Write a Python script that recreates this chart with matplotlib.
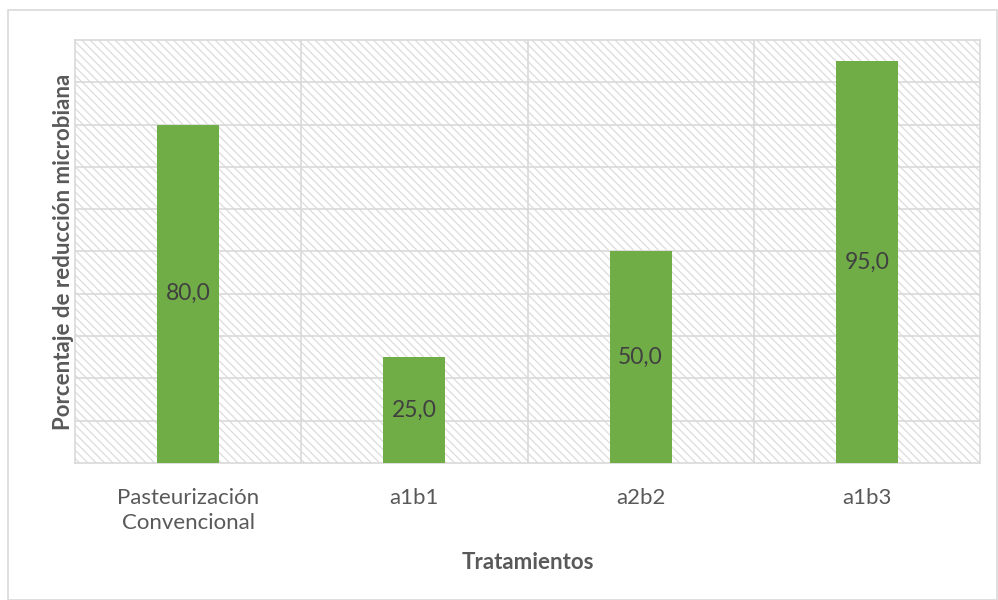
import matplotlib
matplotlib.use("Agg")
import matplotlib.pyplot as plt
from matplotlib.patches import Rectangle

categories = ["Pasteurización\nConvencional", "a1b1", "a2b2", "a1b3"]
values = [80.0, 25.0, 50.0, 95.0]
value_labels = ["80,0", "25,0", "50,0", "95,0"]

plt.rcParams["font.family"] = ["Lato", "DejaVu Sans"]
plt.rcParams["hatch.linewidth"] = 0.9

GRID = "#D9D9D9"
TEXT = "#595959"
BAR = "#70AD47"

fig = plt.figure(figsize=(9.98, 6.0), dpi=100)
fig.patches.append(Rectangle((8 / 998, 0.0), 989 / 998, 590 / 600, transform=fig.transFigure,
                             facecolor="none", edgecolor=GRID, linewidth=1.2, zorder=0))

ax = fig.add_axes([75 / 998, 1 - 463 / 600, 905 / 998, 423 / 600])
ax.set_facecolor("white")

# diagonal hatch filling the plot area
ax.add_patch(Rectangle((0, 0), 1, 1, transform=ax.transAxes, facecolor="none",
                       edgecolor="#DCDCDC", linewidth=0, hatch="\\\\\\\\", zorder=0))

x = list(range(len(categories)))
ax.bar(x, values, width=0.275, color=BAR, zorder=3)

for xi, v, lab in zip(x, values, value_labels):
    ax.text(xi, v / 2, lab, ha="center", va="center", fontsize=16.5, color="#404040", zorder=4)

ax.set_xlim(-0.5, len(categories) - 0.5)
ax.set_ylim(0, 100)

for y in range(10, 100, 10):
    ax.axhline(y, color=GRID, linewidth=1.2, zorder=1)
for xb in [0.5, 1.5, 2.5]:
    ax.axvline(xb, color=GRID, linewidth=1.2, zorder=1)

for s in ax.spines.values():
    s.set_color(GRID)
    s.set_linewidth(1.2)

ax.set_yticks([])
ax.set_xticks(x)
ax.set_xticklabels(categories, fontsize=16, color=TEXT, linespacing=1.3)
ax.tick_params(axis="x", length=0, pad=18)

ax.set_xlabel("Tratamientos", fontsize=16, fontweight="bold", color=TEXT, labelpad=14)
ax.set_ylabel("Porcentaje de reducción microbiana", fontsize=16, fontweight="bold",
              color=TEXT, labelpad=1)

fig.savefig("out.png", dpi=100)
